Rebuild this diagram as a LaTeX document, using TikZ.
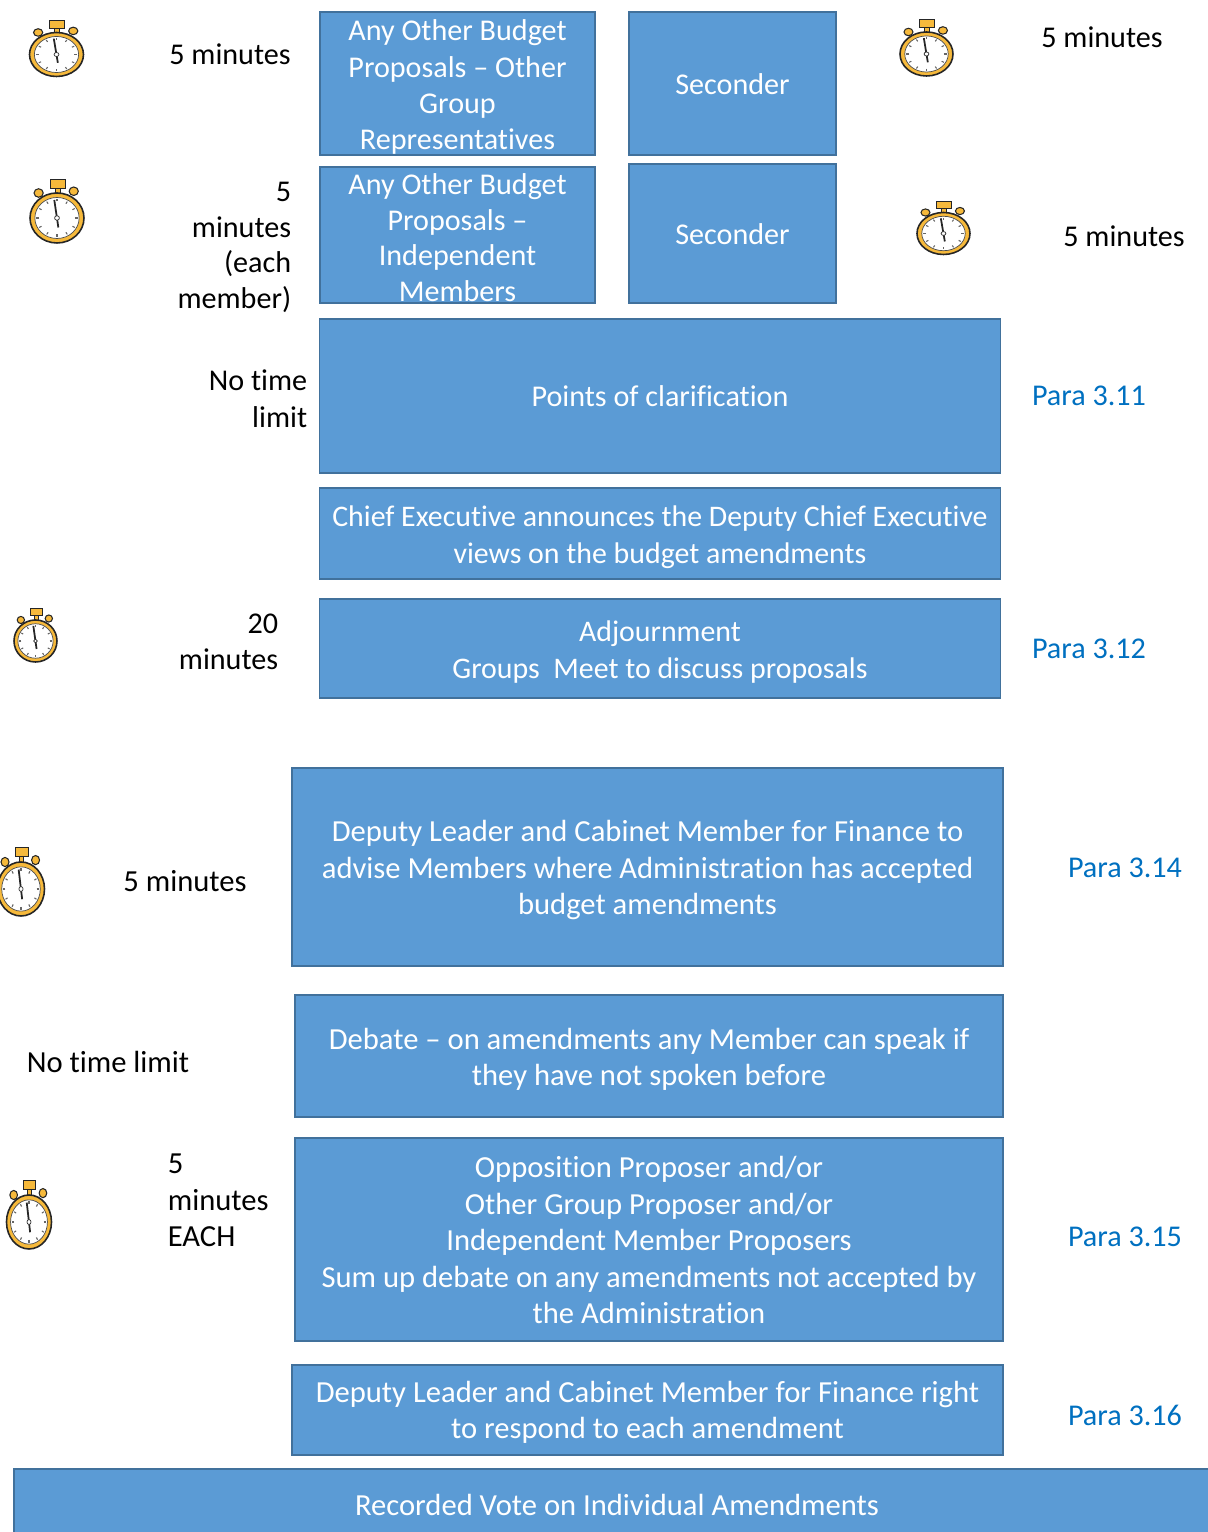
\documentclass[tikz,border=0pt]{standalone}
\usepackage{fontspec}
\setmainfont[Ligatures=NoCommon]{Carlito}
\usetikzlibrary{positioning}

\definecolor{boxblue}{HTML}{5B9BD5}
\definecolor{boxedge}{HTML}{41719C}
\definecolor{paralink}{HTML}{0070C0}
\definecolor{watchgold}{HTML}{F6B93B}

\newcommand{\dropline}[1]{\rule{0pt}{#1}}

\tikzset{
	textsize/.style={font=\fontsize{17.15}{20.8}\selectfont},
	tightsize/.style={font=\fontsize{17.15}{20.4}\selectfont},
	smallersize/.style={font=\fontsize{17}{20.8}\selectfont},
	biggersize/.style={font=\fontsize{17.42}{20.8}\selectfont},
	bluebox/.style={rectangle,draw=boxedge,fill=boxblue,line width=0.6pt,text=white,align=center,inner sep=0pt,textsize},
	lowerbox/.style={bluebox,biggersize},
	timelabel/.style={text=black,inner sep=0pt,textsize},
	paralabel/.style={text=paralink,inner sep=0pt,textsize},
	stopwatch/.pic={
		\draw[black!85,fill=watchgold,line width=0.4pt] (-0.07,0.95) rectangle (0.12,1.25);
		\draw[black!85,fill=watchgold,line width=0.5pt] (-0.25,1.2) rectangle (0.3,1.55);
		\draw[black!85,fill=watchgold,line width=0.6pt] (-0.68,1.0) circle (0.17);
		\draw[black!85,fill=watchgold,line width=0.6pt] (0.62,1.07) circle (0.17);
		\draw[black!85,fill=watchgold,line width=0.9pt] (0,0) circle (1);
		\draw[black!70,fill=white,line width=0.4pt] (0,0) circle (0.82);
		\foreach \a in {0,30,...,330}
			\draw[black!60,line width=0.6pt] (\a:0.66) -- (\a:0.76);
		\draw[black!85,line width=1pt] (0.05,-0.38) -- (-0.1,0.72);
		\draw[black!80,fill=white,line width=0.4pt] (0,0) circle (0.09);
	}
}

\begin{document}
\begin{tikzpicture}

	\useasboundingbox (0,0) rectangle (24.16,30.64);
	\clip (0,0) rectangle (24.16,30.64);

	\node[bluebox,font=\fontsize{17.15}{20.6}\selectfont,minimum width=5.5cm,minimum height=2.86cm] (B1) at (9.15,28.97) {\dropline{16pt}Any Other Budget\\Proposals -- Other\\Group\\Representatives};
	\node[bluebox,minimum width=4.14cm,minimum height=2.86cm] (S1) at (14.65,28.97) {\dropline{12.8pt}Seconder};
	\node[bluebox,tightsize,minimum width=5.5cm,minimum height=2.72cm] (B2) at (9.15,25.94) {\dropline{15pt}Any Other Budget\\Proposals --\\Independent\\Members};
	\node[bluebox,minimum width=4.14cm,minimum height=2.78cm] (S2) at (14.65,25.97) {\dropline{12.8pt}Seconder};

	\node[bluebox,minimum width=13.62cm,minimum height=3.08cm] (P) at (13.2,22.72) {Points of clarification};
	\node[bluebox,smallersize,minimum width=13.62cm,minimum height=1.82cm] (C) at (13.2,19.97) {\dropline{16pt}Chief Executive announces the Deputy Chief Executive\\views on the budget amendments};
	\node[bluebox,smallersize,minimum width=13.62cm,minimum height=1.98cm] (A) at (13.2,17.67) {\dropline{16pt}Adjournment\\Groups\ \ Meet to discuss proposals};

	\node[lowerbox,minimum width=14.22cm,minimum height=3.96cm] (D) at (12.95,13.3) {\dropline{16pt}Deputy Leader and Cabinet Member for Finance to\\advise Members where Administration has accepted\\budget amendments};
	\node[lowerbox,minimum width=14.16cm,minimum height=2.44cm] (E) at (12.98,9.52) {\dropline{16pt}Debate -- on amendments any Member can speak if\\they have not spoken before};
	\node[lowerbox,minimum width=14.16cm,minimum height=4.06cm] (O) at (12.98,5.85) {\dropline{13pt}Opposition Proposer and/or\\Other Group Proposer and/or\\Independent Member Proposers\\Sum up debate on any amendments not accepted by\\the Administration};
	\node[lowerbox,minimum width=14.22cm,minimum height=1.8cm] (L) at (12.95,2.44) {\dropline{15pt}Deputy Leader and Cabinet Member for Finance right\\to respond to each amendment};
	\node[lowerbox,minimum width=24.12cm,minimum height=1.42cm] (R) at (12.34,0.55) {Recorded Vote on Individual Amendments};

	\node[timelabel] (T1) at (4.6,29.56) {5 minutes};
	\node[timelabel] (T2) at (22.04,29.9) {5 minutes};
	\node[timelabel,tightsize,align=right,anchor=east] (T3) at (5.83,25.69) {5\\minutes\\(each\\member)};
	\node[timelabel] (T4) at (22.48,25.92) {5 minutes};
	\node[timelabel,align=right,anchor=east] (T5) at (6.15,22.67) {No time\\limit};
	\node[timelabel,align=right,anchor=east] (T6) at (5.57,17.8) {20\\minutes};
	\node[timelabel,biggersize] (T7) at (3.7,13.02) {5 minutes};
	\node[timelabel,biggersize] (T8) at (2.16,9.41) {No time limit};
	\node[timelabel,biggersize,align=left,anchor=west] (T9) at (3.35,6.63) {5\\minutes\\EACH};

	\node[paralabel] (P1) at (21.78,22.72) {Para 3.11};
	\node[paralabel] (P2) at (21.78,17.66) {Para 3.12};
	\node[paralabel] (P3) at (22.5,13.28) {Para 3.14};
	\node[paralabel] (P4) at (22.5,5.9) {Para 3.15};
	\node[paralabel] (P5) at (22.5,2.34) {Para 3.16};

	\pic[xscale=0.54,yscale=0.44] (W1) at (1.13,29.55) {stopwatch};
	\pic[xscale=0.53,yscale=0.44] (W2) at (18.53,29.56) {stopwatch};
	\pic[xscale=0.54,yscale=0.5] (W3) at (1.14,26.28) {stopwatch};
	\pic[xscale=0.53,yscale=0.42] (W4) at (18.87,25.97) {stopwatch};
	\pic[xscale=0.43,yscale=0.42] (W5) at (0.71,17.82) {stopwatch};
	\pic[xscale=0.47,yscale=0.54] (W6) at (0.42,12.86) {stopwatch};
	\pic[xscale=0.45,yscale=0.54] (W7) at (0.58,6.2) {stopwatch};

\end{tikzpicture}
\end{document}
